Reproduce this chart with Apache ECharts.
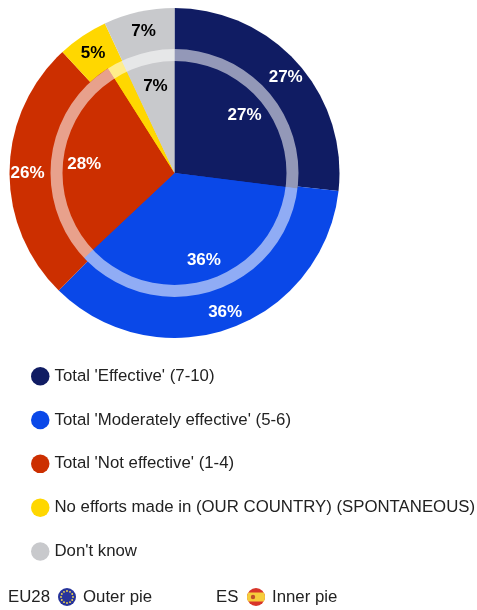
<!DOCTYPE html>
<html>
<head>
<meta charset="utf-8">
<style>
html, body { margin: 0; padding: 0; background: #fff; }
#chart { width: 477px; height: 610px; }
</style>
<script src="https://cdn.jsdelivr.net/npm/echarts@6/dist/echarts.min.js"></script>
</head>
<body>
<div id="chart"></div>
<script>
var categories = ["Total 'Effective' (7-10)", "Total 'Moderately effective' (5-6)", "Total 'Not effective' (1-4)", "No efforts made in (OUR COUNTRY) (SPONTANEOUS)", "Don't know"];
var outerValues = [27, 36, 26, 5, 7];
var innerValues = [27, 36, 28, 2, 7];
var sliceColors = ['#101c63', '#0a48e8', '#cc2f00', '#ffd700', '#c8c9cc'];
var labelColors = ['#fff', '#fff', '#fff', '#000', '#000'];

var center = [174.5, 173];
var textFont = '"Liberation Sans", Arial, sans-serif';

function buildData(values, withColor) {
	return values.map(function(v, i) {
		var item = { name: categories[i], value: v };
		item.itemStyle = { color: withColor ? sliceColors[i] : 'rgba(0,0,0,0)' };
		item.label = { color: labelColors[i] };
		return item;
	});
}

function piePart(values, radius, withColor) {
	return {
		type: 'pie',
		center: center,
		radius: radius,
		startAngle: 90,
		clockwise: true,
		silent: true,
		animation: false,
		data: buildData(values, withColor),
		label: { show: false },
		labelLine: { show: false },
		emphasis: { disabled: true }
	};
}

// 只放文字的透明饼，文字落在半径中点
function labelPart(values, radius) {
	var s = piePart(values, radius, false);
	s.z = 5;
	s.label = {
		show: true,
		position: 'inside',
		fontFamily: textFont,
		fontWeight: 'bold',
		fontSize: 17,
		formatter: function(p) {
			return p.value < 3 ? '' : p.value + '%';
		}
	};
	// 原图下半部分的文字没有偏移，其余略微下移
	s.labelLayout = function(p) {
		return { dx: 1, dy: p.dataIndex === 1 ? 0 : 3 };
	};
	return s;
}

// 欧盟旗
var euFlag = [{
	type: 'circle', x: 67, y: 597, shape: { r: 9 },
	style: { fill: '#27349b' }
}];
for (var k = 0; k < 12; k++) {
	euFlag.push({
		type: 'circle',
		x: 67 + 6 * Math.cos(k * Math.PI / 6),
		y: 597 + 6 * Math.sin(k * Math.PI / 6),
		shape: { r: 0.9 },
		style: { fill: '#f2d84a' }
	});
}
// 西班牙旗
var esFlag = [{
	type: 'circle', x: 256, y: 597, shape: { r: 9 },
	style: { fill: '#d8352a' }
}, {
	type: 'polygon', x: 256, y: 597,
	shape: { points: [[-7.8, -4.5], [-8.7, -2.2], [-9, 0], [-8.7, 2.2], [-7.8, 4.5], [7.8, 4.5], [8.7, 2.2], [9, 0], [8.7, -2.2], [7.8, -4.5]] },
	style: { fill: '#f6cd3c' }
}, {
	type: 'circle', x: 253, y: 597, shape: { r: 2.2 },
	style: { fill: '#c0502a' }
}];

function bottomText(str, x) {
	return {
		type: 'text', x: x, y: 597.5,
		style: { text: str, fill: '#222', font: '16.8px ' + textFont, verticalAlign: 'middle' }
	};
}

var myChart = echarts.init(document.getElementById('chart'), null, { renderer: 'canvas' });
var option = {
	backgroundColor: '#fff',
	animation: false,
	legend: {
		orient: 'vertical',
		left: 31,
		top: 367,
		padding: 0,
		itemWidth: 18.5,
		itemHeight: 18.5,
		itemGap: 25.3,
		icon: 'circle',
		selectedMode: false,
		data: categories,
		textStyle: { fontFamily: textFont, fontSize: 16.8, color: '#222' }
	},
	series: [
		piePart(outerValues, [0, 165], true),
		piePart(innerValues, [0, 124], true),
		{
			type: 'pie',
			center: center,
			radius: [112, 124],
			silent: true,
			animation: false,
			z: 3,
			label: { show: false },
			labelLine: { show: false },
			emphasis: { disabled: true },
			data: [{ name: 'ring', value: 1, itemStyle: { color: 'rgba(255,255,255,0.55)' } }]
		},
		labelPart(outerValues, [125, 165]),
		labelPart(innerValues, [54, 124])
	],
	graphic: euFlag.concat(esFlag, [
		bottomText('EU28', 8),
		bottomText('Outer pie', 83),
		bottomText('ES', 216),
		bottomText('Inner pie', 272)
	])
};
myChart.setOption(option);
</script>
</body>
</html>
